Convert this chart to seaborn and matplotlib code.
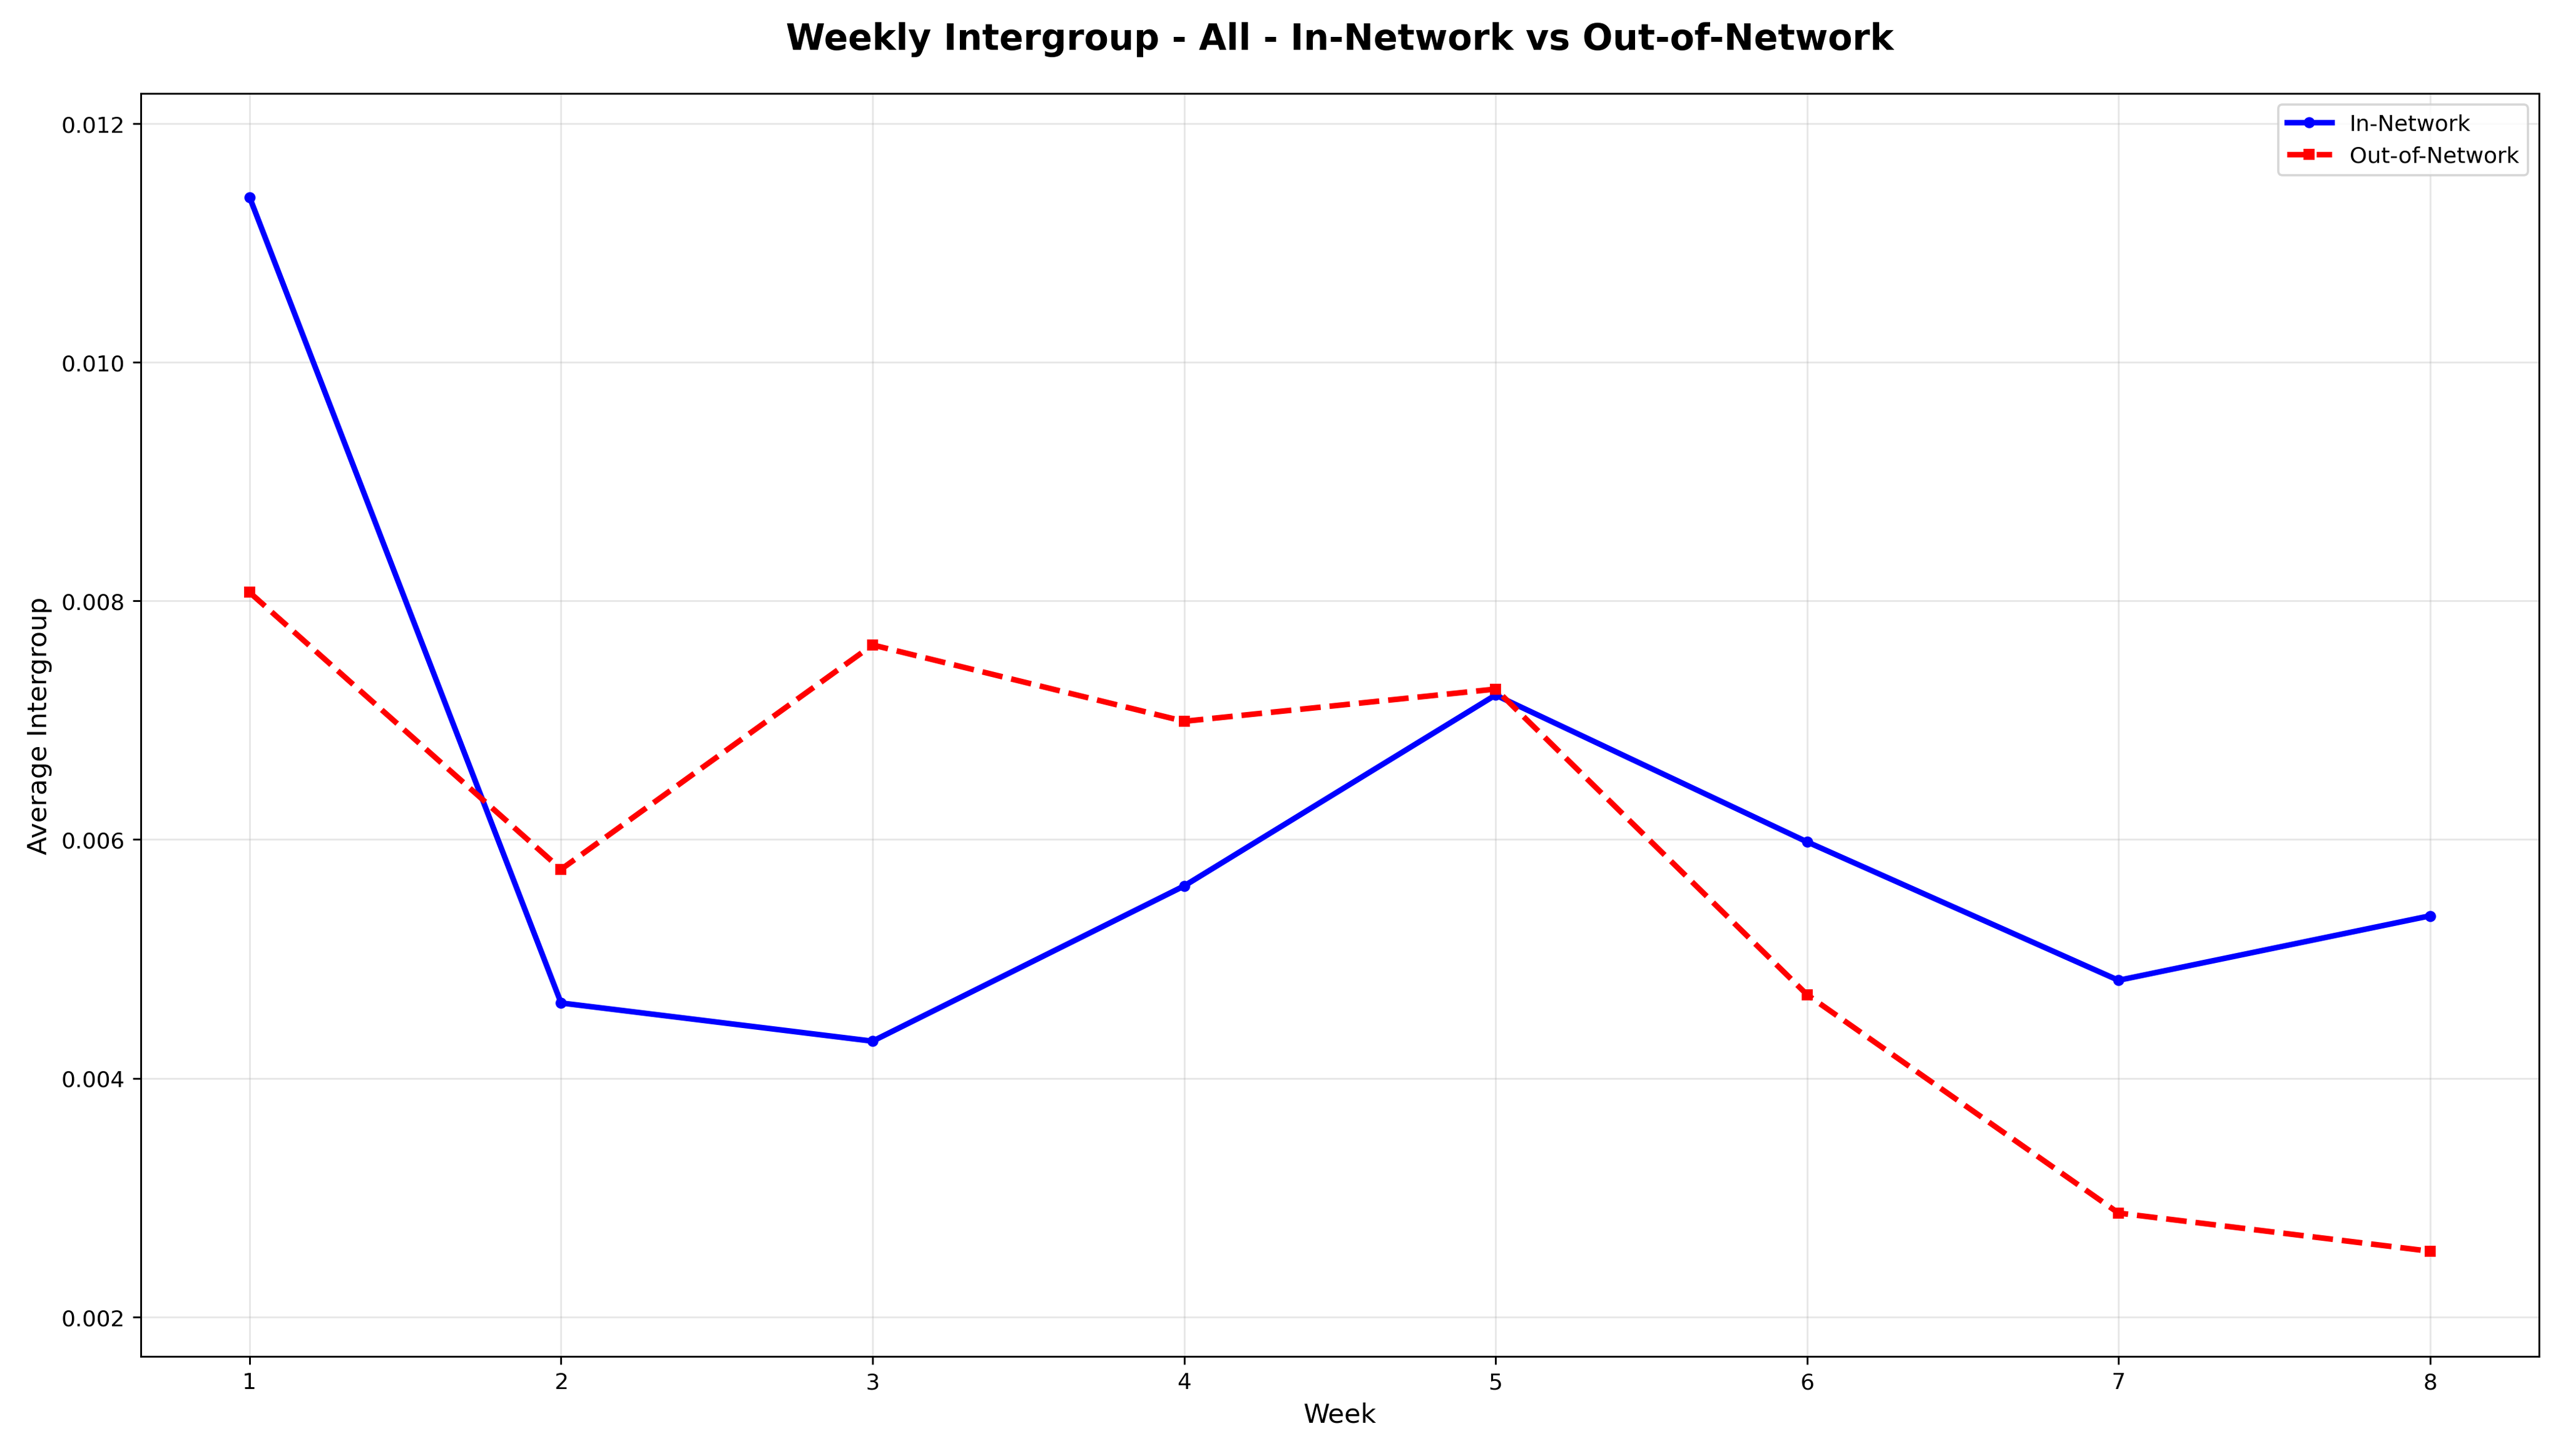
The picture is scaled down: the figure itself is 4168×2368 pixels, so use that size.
import matplotlib
matplotlib.use("Agg")
import matplotlib.pyplot as plt
import seaborn as sns
import pandas as pd

weeks = [1, 2, 3, 4, 5, 6, 7, 8]
in_network = [0.01138, 0.00463, 0.00431, 0.00561, 0.00721, 0.00598, 0.00482, 0.00536]
out_network = [0.00807, 0.00575, 0.00763, 0.00699, 0.00726, 0.00470, 0.00287, 0.00255]

df = pd.DataFrame({"Week": weeks, "In": in_network, "Out": out_network})

plt.rcParams['font.family'] = ['DejaVu Sans']

fig, ax = plt.subplots(figsize=(16, 9.094))

sns.lineplot(data=df, x="Week", y="In", ax=ax, color="blue", linewidth=2.5,
             marker="o", markersize=5, markeredgewidth=0, label="In-Network")
sns.lineplot(data=df, x="Week", y="Out", ax=ax, color="red", linewidth=2.5,
             linestyle="--", marker="s", markersize=5, markeredgewidth=0,
             label="Out-of-Network")

ax.set_title("Weekly Intergroup - All - In-Network vs Out-of-Network",
             fontsize=16, fontweight="bold", pad=20)
ax.set_xlabel("Week", fontsize=12)
ax.set_ylabel("Average Intergroup", fontsize=12)
ax.set_xticks(weeks)
ax.set_yticks([0.002, 0.004, 0.006, 0.008, 0.010, 0.012])
ax.set_ylim(0.00167, 0.01225)
ax.grid(True, alpha=0.3)
ax.legend(loc="upper right")

plt.tight_layout()
plt.savefig("out.png", dpi=260.5)
